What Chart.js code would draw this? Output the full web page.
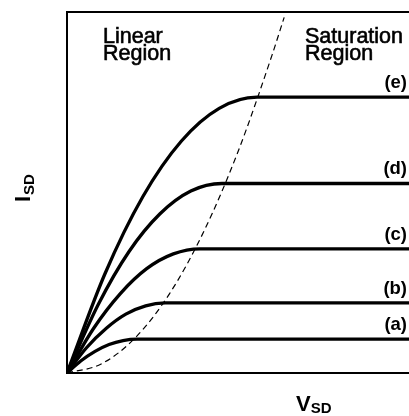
<!DOCTYPE html>
<html>
<head>
<meta charset="utf-8">
<script src="https://cdn.jsdelivr.net/npm/chart.js@4/dist/chart.umd.min.js"></script>
<style>
    html, body { margin: 0; padding: 0; background: #fff; }
    #wrap { width: 409px; height: 416px; }
</style>
</head>
<body>
<div id="wrap"><canvas id="iv-chart"></canvas></div>
<script>
"use strict";

// V_SD / I_SD readings (arbitrary units, 0..10 on both axes)
var vsdA = [0, 0.41, 0.82, 1.23, 1.64, 2.05, 10];
var isdA = [0, 0.34, 0.6, 0.79, 0.9, 0.94, 0.94];

var vsdB = [0, 0.57, 1.15, 1.72, 2.3, 2.87, 10];
var isdB = [0, 0.7, 1.24, 1.63, 1.86, 1.94, 1.94];

var vsdC = [0, 0.78, 1.56, 2.33, 3.11, 3.89, 10];
var isdC = [0, 1.24, 2.2, 2.89, 3.3, 3.44, 3.44];

var vsdD = [0, 0.91, 1.81, 2.72, 3.62, 4.53, 10];
var isdD = [0, 1.89, 3.36, 4.41, 5.04, 5.25, 5.25];

var vsdE = [0, 1.11, 2.22, 3.34, 4.45, 5.56, 10];
var isdE = [0, 2.75, 4.89, 6.42, 7.33, 7.64, 7.64];

// boundary between linear and saturation regions
var vsdSat = [0, 1, 2, 3, 4, 5, 6, 6.35];
var isdSat = [0, 0.25, 0.98, 2.2, 3.92, 6.13, 8.82, 9.85];

var curveNames = ["(a)", "(b)", "(c)", "(d)", "(e)"];

function toPoints(xs, ys) {
    return xs.map(function (x, i) {
        return { x: x, y: ys[i] };
    });
}

var curves = [
    toPoints(vsdA, isdA),
    toPoints(vsdB, isdB),
    toPoints(vsdC, isdC),
    toPoints(vsdD, isdD),
    toPoints(vsdE, isdE),
];

var datasets = curves.map(function (pts, i) {
    return {
        label: curveNames[i],
        data: pts,
        borderColor: "#000",
        borderWidth: 3.3,
        pointRadius: 0,
        fill: false,
        cubicInterpolationMode: "monotone",
    };
});

datasets.push({
    label: "boundary",
    data: toPoints(vsdSat, isdSat),
    borderColor: "#000",
    borderWidth: 1.2,
    borderDash: [6, 4],
    pointRadius: 0,
    fill: false,
    cubicInterpolationMode: "monotone",
});

var textPlugin = {
    id: "mosfetText",
    afterDraw: function (chart) {
        var ctx = chart.ctx;
        var area = chart.chartArea;
        var yScale = chart.scales.y;
        ctx.save();
        ctx.fillStyle = "#000";
        ctx.strokeStyle = "#000";
        ctx.textBaseline = "alphabetic";

        // region names (thin stroke to get the heavier look)
        ctx.font = "21.5px 'Liberation Sans', Arial, sans-serif";
        ctx.textAlign = "left";
        ctx.lineWidth = 0.6;
        [
            ["Linear", 36, 31],
            ["Region", 36, 48],
            ["Saturation", 238, 31],
            ["Region", 238, 48],
        ].forEach(function (t) {
            ctx.fillText(t[0], area.left + t[1], area.top + t[2]);
            ctx.strokeText(t[0], area.left + t[1], area.top + t[2]);
        });

        // curve labels
        ctx.font = "bold 18.5px 'Liberation Sans', Arial, sans-serif";
        ctx.textAlign = "right";
        curves.forEach(function (pts, i) {
            var level = pts[pts.length - 1].y;
            var y = yScale.getPixelForValue(level);
            ctx.fillText(curveNames[i], area.right - 2, y - 9);
        });

        // x axis title V_SD
        ctx.textAlign = "left";
        var vx = area.left + 229;
        var vy = area.bottom + 38;
        ctx.font = "bold 22px 'Liberation Sans', Arial, sans-serif";
        ctx.fillText("V", vx, vy);
        var wV = ctx.measureText("V").width;
        ctx.font = "bold 15px 'Liberation Sans', Arial, sans-serif";
        ctx.fillText("SD", vx + wV, vy + 2);

        // y axis title I_SD
        ctx.translate(area.left - 37, area.top + 190);
        ctx.rotate(-Math.PI / 2);
        ctx.font = "bold 22px 'Liberation Sans', Arial, sans-serif";
        ctx.fillText("I", 0, 0);
        var wI = ctx.measureText("I").width;
        ctx.font = "bold 15px 'Liberation Sans', Arial, sans-serif";
        ctx.fillText("SD", wI + 1, 4);
        ctx.restore();
    },
};

var ctx = document.getElementById("iv-chart").getContext("2d");

new Chart(ctx, {
    type: "line",
    data: { datasets: datasets },
    options: {
        responsive: true,
        maintainAspectRatio: false,
        animation: false,
        layout: {
            padding: { left: 59, top: 4, right: 0, bottom: 35 },
        },
        scales: {
            x: {
                type: "linear",
                min: 0,
                max: 10,
                grid: { display: false },
                ticks: { display: false },
                border: { display: true, color: "#000", width: 2 },
            },
            xTop: {
                type: "linear",
                position: "top",
                min: 0,
                max: 10,
                grid: { display: false },
                ticks: { display: false },
                border: { display: true, color: "#000", width: 2 },
            },
            y: {
                type: "linear",
                min: 0,
                max: 10,
                grid: { display: false },
                ticks: { display: false },
                border: { display: true, color: "#000", width: 2 },
            },
        },
        plugins: {
            legend: { display: false },
            tooltip: { enabled: false },
        },
    },
    plugins: [textPlugin],
});
</script>
</body>
</html>
